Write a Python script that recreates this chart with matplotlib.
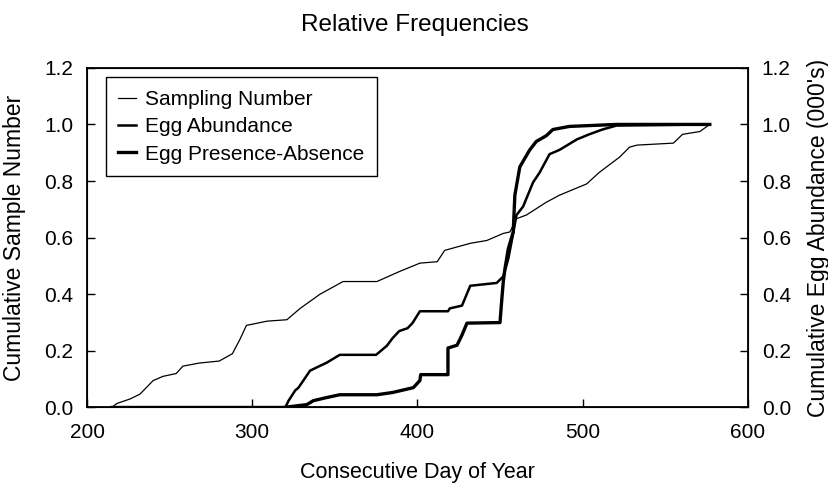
"""
 Title:         Relative Frequencies
 Description:   Cumulative sampling and egg curves against day of year
"""

# Libraries
import matplotlib
matplotlib.use("Agg")
import matplotlib.pyplot as plt

# Constants
FONT       = "Liberation Sans"
LINE_COLOR = "black"

# Sampling number (thin line)
samp_days = [215, 218, 226, 232, 240, 246, 254, 258, 268, 280, 288, 292.5, 296.5, 309, 321,
             329, 341, 355, 375.5, 389, 401.5, 412, 416.5, 432, 442, 452, 456, 460, 466,
             478, 486, 502.5, 510, 522.5, 528.5, 533, 555, 560.5, 571, 577]
samp_vals = [0, 0.014, 0.03, 0.047, 0.095, 0.11, 0.12, 0.146, 0.157, 0.164, 0.19, 0.24, 0.29,
             0.305, 0.31, 0.35, 0.40, 0.445, 0.445, 0.48, 0.51, 0.515, 0.555, 0.58, 0.59,
             0.615, 0.62, 0.667, 0.68, 0.725, 0.75, 0.79, 0.83, 0.885, 0.92, 0.927, 0.934,
             0.965, 0.975, 1.0]

# Egg abundance (medium line)
abun_days = [215, 320, 322, 326, 328, 335, 341, 345, 353, 375, 381.5, 385, 389, 394, 397,
             401.5, 418.5, 419.6, 427, 432, 448, 452, 455, 457, 460, 464, 470, 474, 480,
             486, 496.5, 504, 512, 520.5, 577]
abun_vals = [0, 0, 0.024, 0.06, 0.07, 0.13, 0.147, 0.158, 0.186, 0.186, 0.218, 0.245, 0.27,
             0.28, 0.298, 0.34, 0.34, 0.35, 0.36, 0.43, 0.44, 0.463, 0.525, 0.585, 0.68,
             0.71, 0.795, 0.83, 0.895, 0.91, 0.947, 0.965, 0.982, 0.996, 1.0]

# Egg presence-absence (thick line)
pres_days = [215, 318.7, 333, 337, 345, 353, 375.5, 385, 397.5, 401.5, 402, 418.5, 418.5,
             424, 427, 430, 450, 451, 452, 453, 455, 458, 459, 462, 468, 472, 478, 482,
             492, 520.5, 577]
pres_vals = [0, 0, 0.01, 0.024, 0.035, 0.045, 0.045, 0.053, 0.07, 0.095, 0.116, 0.116, 0.21,
             0.22, 0.256, 0.298, 0.30, 0.375, 0.445, 0.49, 0.56, 0.62, 0.75, 0.85, 0.91,
             0.94, 0.96, 0.982, 0.993, 1.0, 1.0]

labels  = ["Sampling Number", "Egg Abundance", "Egg Presence-Absence"]
x_ticks = [200, 300, 400, 500, 600]
y_ticks = [0.0, 0.2, 0.4, 0.6, 0.8, 1.0, 1.2]

plt.rcParams["font.family"] = [FONT, "DejaVu Sans"]

# Prepare figure
fig, ax = plt.subplots(figsize=(8.29, 4.88), dpi=100)
fig.subplots_adjust(left=0.105, right=0.902, bottom=0.165, top=0.861)

# Plot curves
ax.plot(samp_days, samp_vals, color=LINE_COLOR, linewidth=0.9, label=labels[0])
ax.plot(abun_days, abun_vals, color=LINE_COLOR, linewidth=1.8, label=labels[1])
ax.plot(pres_days, pres_vals, color=LINE_COLOR, linewidth=2.4, label=labels[2])

# Axes setup
ax.set_xlim(200, 600)
ax.set_ylim(0, 1.2)
ax.set_xticks(x_ticks)
ax.set_yticks(y_ticks)
ax.set_yticklabels([f"{v:.1f}" for v in y_ticks])
ax.tick_params(direction="in", length=6, width=1, labelsize=15)
ax.tick_params(axis="x", pad=11)
ax.tick_params(axis="y", pad=10)
ax.set_xlabel("Consecutive Day of Year", fontsize=15.5)
ax.set_ylabel("Cumulative Sample Number", fontsize=16.5)
ax.xaxis.set_label_coords(0.5, -0.16)
ax.yaxis.set_label_coords(-0.093, 0.5)
fig.text(0.5, 1 - 25 / 488, "Relative Frequencies", fontsize=17.5, ha="center", va="center")
for spine in ax.spines.values():
    spine.set_linewidth(1.3)

# Right axis
ax2 = ax.twinx()
ax2.set_ylim(0, 1.2)
ax2.set_yticks(y_ticks)
ax2.set_yticklabels([f"{v:.1f}" for v in y_ticks])
ax2.tick_params(direction="in", length=6, width=1, labelsize=15, pad=10)
ax2.set_ylabel("Cumulative Egg Abundance (000's)", fontsize=16.5)
ax2.yaxis.set_label_coords(1.09, 0.5)

# Legend
leg = ax.legend(loc="upper left", bbox_to_anchor=(0.028, 0.972), fontsize=15,
                handlelength=0.85, handletextpad=0.45, fancybox=False, edgecolor="black",
                framealpha=1, borderpad=0.6, borderaxespad=0, labelspacing=0.4)
leg.get_frame().set_linewidth(1.0)

fig.savefig("out.png", dpi=100)
